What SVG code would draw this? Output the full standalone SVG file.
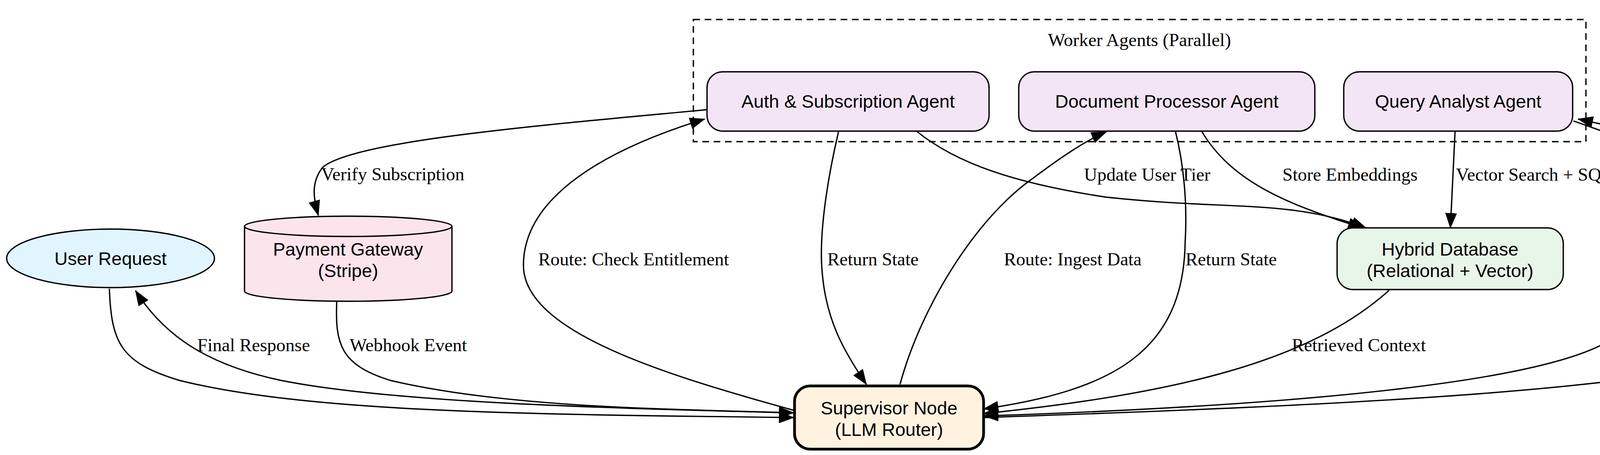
<svg xmlns="http://www.w3.org/2000/svg" width="5270" height="1166" viewBox="0 0 5270 1166">
<style>
.n{stroke:#000;stroke-width:3.4}
.nl{font-family:"Liberation Sans",Arial,sans-serif;font-size:47px;text-anchor:middle}
.el{font-family:"Liberation Serif","Times New Roman",serif;font-size:47px}
.e{fill:none;stroke:#000;stroke-width:3.4}
</style>
<defs>
<marker id="a" markerUnits="userSpaceOnUse" markerWidth="40" markerHeight="30" refX="38" refY="15" orient="auto"><path d="M0,0 L40,15 L0,30 z" fill="#000"/></marker>
</defs>
<rect width="5270" height="1166" fill="#fff"/>
<g id="cluster">
<rect x="1775" y="50" width="2285" height="313" fill="none" stroke="#000" stroke-width="3.4" stroke-dasharray="17,12"/>
<text x="2917" y="118" class="el" text-anchor="middle">Worker Agents (Parallel)</text>
</g>
<g id="edges">
<path class="e" marker-end="url(#a)" d="M280,740 C285,880 310,930 460,975 C800,1060 1400,1062 2032,1070"/>
<path class="e" marker-end="url(#a)" d="M2034,1058 C1500,1045 1000,1030 720,975 C530,935 420,860 347,745"/>
<text class="el" x="505" y="900">Final Response</text>
<path class="e" marker-end="url(#a)" d="M862,773 C858,880 870,935 1000,975 C1300,1045 1700,1048 2032,1058"/>
<text class="el" x="895" y="900">Webhook Event</text>
<path class="e" marker-end="url(#a)" d="M1810,281 C1400,320 900,360 825,430 C795,470 803,510 815,552"/>
<text class="el" x="822" y="462">Verify Subscription</text>
<path class="e" marker-end="url(#a)" d="M2034,1052 C1700,960 1340,850 1340,680 C1340,500 1560,380 1804,305"/>
<text class="el" x="1378" y="680">Route: Check Entitlement</text>
<path class="e" marker-end="url(#a)" d="M2147,336 C2120,450 2095,600 2105,700 C2115,820 2160,900 2218,985"/>
<text class="el" x="2118" y="680">Return State</text>
<path class="e" marker-end="url(#a)" d="M2304,985 C2360,780 2500,560 2640,460 C2720,400 2780,360 2832,338"/>
<text class="el" x="2570" y="680">Route: Ingest Data</text>
<path class="e" marker-end="url(#a)" d="M2346,336 C2450,420 2600,470 2830,505 C3150,540 3300,510 3497,584"/>
<text class="el" x="2775" y="463">Update User Tier</text>
<path class="e" marker-end="url(#a)" d="M3009,336 C3030,420 3040,520 3034,620 C3030,900 2850,1000 2518,1048"/>
<text class="el" x="3035" y="680">Return State</text>
<path class="e" marker-end="url(#a)" d="M3076,336 C3150,460 3280,520 3489,584"/>
<text class="el" x="3283" y="463">Store Embeddings</text>
<path class="e" marker-end="url(#a)" d="M3725,336 L3713,584"/>
<text class="el" x="3727" y="463">Vector Search + SQL Join</text>
<path class="e" marker-end="url(#a)" d="M3556,744 C3350,930 3000,1010 2518,1060"/>
<text class="el" x="3307" y="900">Retrieved Context</text>
<path class="e" marker-end="url(#a)" d="M4028,310 C4200,370 4365,430 4365,520 C4365,620 4250,720 4150,850 C4020,980 3300,1040 2518,1066"/>
<text class="el" x="4348" y="680">Return State</text>
<path class="e" marker-end="url(#a)" d="M2518,1070 C3400,1040 4350,1000 4560,880 C4700,790 4710,620 4640,520 C4560,430 4250,350 4040,305"/>
<text class="el" x="4705" y="680">Route: Semantic Search</text>
</g>
<g id="user"><ellipse class="n" cx="283" cy="662" rx="266" ry="75" fill="#e1f5fe"/><text class="nl" x="283" y="679">User Request</text></g>
<g id="payment">
<path class="n" fill="#fce4ec" d="M626,580 A265,26 0 0 1 1157,580 L1157,746 A265,26 0 0 1 626,746 Z"/>
<path class="n" fill="none" d="M626,580 A265,26 0 0 0 1157,580"/>
<text class="nl" x="891" y="655">Payment Gateway</text><text class="nl" x="891" y="710">(Stripe)</text></g>
<g id="auth"><rect class="n" x="1810" y="184" width="722" height="152" rx="40" fill="#f3e5f5"/><text class="nl" x="2171" y="276">Auth &amp; Subscription Agent</text></g>
<g id="doc"><rect class="n" x="2608" y="184" width="758" height="152" rx="40" fill="#f3e5f5"/><text class="nl" x="2987" y="276">Document Processor Agent</text></g>
<g id="query"><rect class="n" x="3440" y="184" width="586" height="152" rx="40" fill="#f3e5f5"/><text class="nl" x="3733" y="276">Query Analyst Agent</text></g>
<g id="hybrid"><rect class="n" x="3423" y="584" width="579" height="158" rx="40" fill="#e8f5e9"/><text class="nl" x="3712" y="655">Hybrid Database</text><text class="nl" x="3712" y="710">(Relational + Vector)</text></g>
<g id="supervisor"><rect x="2034" y="989" width="484" height="162" rx="40" fill="#fff3e0" stroke="#000" stroke-width="7"/><text class="nl" x="2276" y="1062">Supervisor Node</text><text class="nl" x="2276" y="1117">(LLM Router)</text></g>
</svg>
